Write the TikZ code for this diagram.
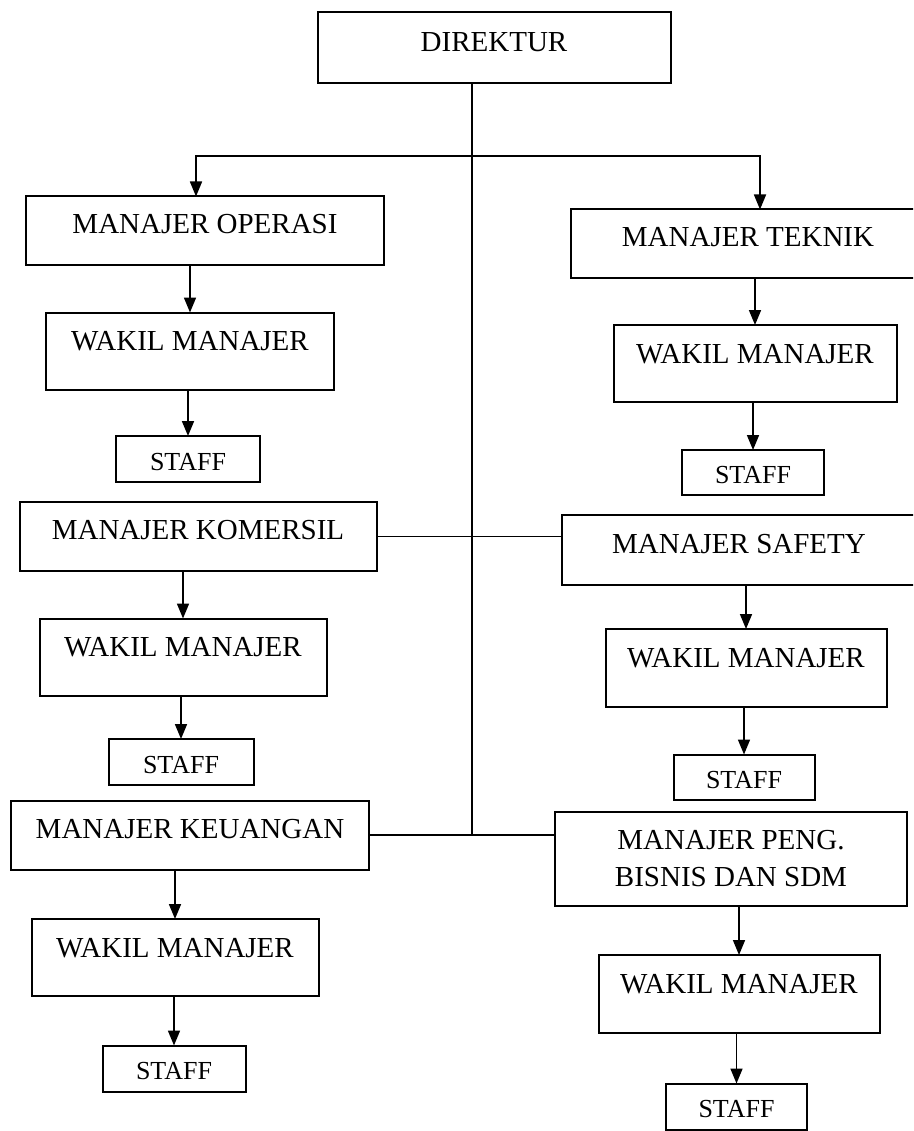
\documentclass[tikz,border=0pt]{standalone}
\usepackage{fontspec}
\setmainfont{Liberation Serif}
\usepackage{tikz}
\usetikzlibrary{arrows.meta,positioning,calc}
\tikzset{
    every picture/.style={line join=miter},
    orgbox/.style={draw=black,line width=2pt,inner sep=0pt,outer sep=0pt,
      font=\fontsize{29}{37}\selectfont,align=center},
    mgrbox/.style={orgbox,minimum width=356pt,minimum height=69pt,
      text height=20pt,text depth=14pt},
    wakilbox/.style={orgbox,minimum width=284pt,minimum height=77pt,
      text height=20pt,text depth=21pt},
    staffbox/.style={orgbox,minimum width=143pt,minimum height=46pt,
      font=\fontsize{26}{30}\selectfont,text height=22pt,text depth=0pt},
    flowarrow/.style={-{Triangle[length=15pt,width=12pt]},line width=1.7pt},
    orgline/.style={line width=1.8pt}
}

\begin{document}
\begin{tikzpicture}[x=1pt,y=-1pt]
  \clip (0,0) rectangle (913,1131);
  \fill[white] (0,0) rectangle (913,1131);
  % pimpinan
  \node[mgrbox,minimum width=353pt,minimum height=71pt,text depth=13pt] (dir) at (494,48) {DIREKTUR};
  % kolom kiri
  \node[mgrbox,minimum width=358pt] (ops) at (205,231) {MANAJER OPERASI};
  \node[wakilbox,minimum width=288pt] (opsw) at (190,351) {WAKIL MANAJER};
  \node[staffbox,minimum width=144pt] (opss) at (188,459) {STAFF};
  \node[mgrbox,minimum width=357pt] (kom) at (198,536.5) {MANAJER KOMERSIL};
  \node[wakilbox,minimum width=287pt] (komw) at (183,657) {WAKIL MANAJER};
  \node[staffbox,minimum width=145pt] (koms) at (181,762) {STAFF};
  \node[mgrbox,minimum width=358pt] (keu) at (190,835) {MANAJER KEUANGAN};
  \node[wakilbox,minimum width=287pt] (keuw) at (175,957.5) {WAKIL MANAJER};
  \node[staffbox] (keus) at (174,1068.5) {STAFF};
  % kolom kanan
  \node[mgrbox,minimum width=354pt,text depth=15pt] (tek) at (748,244) {MANAJER TEKNIK};
  \node[wakilbox,minimum width=283pt] (tekw) at (755,363.5) {WAKIL MANAJER};
  \node[staffbox,minimum width=142pt,minimum height=45pt] (teks) at (753,472.5) {STAFF};
  \node[mgrbox,minimum width=354pt,minimum height=70pt,text depth=12pt] (saf) at (739,549.5) {MANAJER SAFETY};
  \node[wakilbox,minimum width=281pt,minimum height=78pt] (safw) at (746,668) {WAKIL MANAJER};
  \node[staffbox,minimum width=141pt,minimum height=45pt] (safs) at (744,777) {STAFF};
  \node[orgbox,minimum width=352pt,minimum height=94pt] (peng) at (731,859)
    {MANAJER PENG.\\BISNIS DAN SDM};
  \node[wakilbox,minimum width=281pt,minimum height=78pt] (pengw) at (739,994) {WAKIL MANAJER};
  \node[staffbox,minimum width=141pt] (pengs) at (736.5,1106.5) {STAFF};

  % garis komando
  \coordinate (jn) at (472,835);
  \coordinate (bus) at (472,156);
  \draw[orgline] (dir.south -| jn) -- (jn);
  \draw[flowarrow] (bus) -| ([xshift=-9pt]ops.north);
  \draw[flowarrow] (bus) -| ([xshift=12pt]tek.north);
  \draw[orgline] (kom.east) -- (kom.east -| saf.west);
  \draw[orgline] (keu.east) -- (jn) -- (jn -| peng.west);
  \foreach \a/\b in {ops/opsw,opsw/opss,kom/komw,komw/koms,keu/keuw,keuw/keus,
    tek/tekw,tekw/teks,saf/safw,safw/safs,peng/pengw,pengw/pengs}
    \draw[flowarrow] (\b.north |- \a.south) -- (\b.north);
\end{tikzpicture}
\end{document}
